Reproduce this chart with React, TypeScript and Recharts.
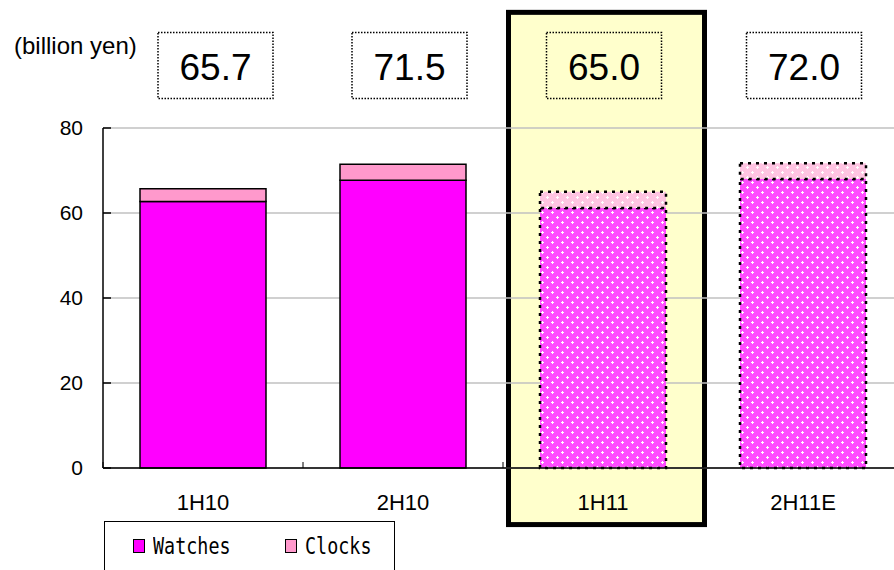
import React from 'react';
import {
  BarChart,
  Bar,
  XAxis,
  YAxis,
  CartesianGrid,
  Cell,
  LabelList,
  Legend,
  ReferenceArea,
} from 'recharts';

// values (billion yen)
const categories = ['1H10', '2H10', '1H11', '2H11E'];
const watches = [62.7, 67.7, 61.2, 68.0];
const clocks = [3.0, 3.8, 3.8, 3.7];
const totals = [65.7, 71.5, 65.0, 72.0];
const forecast = [false, false, true, true];
const seriesNames = ['Watches', 'Clocks'];
const yTicks = [0, 20, 40, 60, 80];
const highlighted = '1H11';

// layout only
const LABEL_SHIFT = [12.5, 6.5, 1, 1];
const HIGHLIGHT_Y: [number, number] = [-13.9, 107.8];
const FONT = 'Arial, "Liberation Sans", sans-serif';
const MONO = '"DejaVu Sans Mono", "Liberation Mono", monospace';

const data = categories.map((name, i) => ({
  name,
  watches: watches[i],
  clocks: clocks[i],
  total: totals[i],
}));

// light fill with small white crosses, like the slide's dotted "estimate" bars
function DotPattern({ id, base }: { id: string; base: string }) {
  return (
    <pattern id={id} width={10} height={10} patternUnits="userSpaceOnUse">
      <rect width={10} height={10} fill={base} />
      <path
        d="M1 2h3v1h-3zM2 1h1v3h-1zM6 7h3v1h-3zM7 6h1v3h-1z"
        fill="#fff"
        shapeRendering="crispEdges"
      />
    </pattern>
  );
}

function Patterns() {
  return (
    <svg width={0} height={0} style={{ position: 'absolute' }}>
      <defs>
        <DotPattern id="watchesP" base="#FF4CFF" />
        <DotPattern id="clocksP" base="#FFC4E2" />
      </defs>
    </svg>
  );
}

const CategoryTick = (props: any) => {
  const { x, y, payload } = props;
  const off = payload.offset ?? 100;
  const axisY = y - 26;
  return (
    <g>
      <line x1={x - off} x2={x - off} y1={axisY} y2={axisY - 6} stroke="#000" />
      <text x={x} y={y} dy="0.71em" textAnchor="middle" fontSize={22} fill="#000" fontFamily={FONT}>
        {payload.value}
      </text>
    </g>
  );
};

const TotalLabel = (props: any) => {
  const { x, width, value, index } = props;
  const cx = Number(x) + Number(width) / 2 + (LABEL_SHIFT[index] ?? 0);
  return (
    <g>
      <rect
        x={cx - 57.5}
        y={32.5}
        width={115}
        height={66}
        fill="none"
        stroke="#000"
        strokeWidth={1.5}
        strokeDasharray="1.5 1.5"
      />
      <text x={cx} y={80} textAnchor="middle" fontSize={37} fill="#000" fontFamily={FONT}>
        {Number(value).toFixed(1)}
      </text>
    </g>
  );
};

const HighlightBox = (props: any) => {
  const { x, y, width, height } = props;
  return (
    <rect
      x={x + 5.5}
      y={y + 2.5}
      width={width - 4}
      height={height - 5}
      fill="#FFFFCC"
      stroke="#000"
      strokeWidth={5}
    />
  );
};

const LegendBox = (props: any) => {
  const items = [...(props.payload ?? [])].sort(
    (a: any, b: any) => seriesNames.indexOf(a.value) - seriesNames.indexOf(b.value)
  );
  const lefts = [28, 180];
  return (
    <div style={{ position: 'relative', width: '100%', height: '100%' }}>
      {items.map((it: any, i: number) => (
        <React.Fragment key={it.value}>
          <div
            style={{
              position: 'absolute',
              left: lefts[i],
              top: 17,
              width: 12,
              height: 14,
              boxSizing: 'border-box',
              border: '1px solid #000',
              background: it.color,
            }}
          />
          <span
            style={{
              position: 'absolute',
              left: lefts[i] + 20,
              top: 13,
              fontFamily: MONO,
              fontSize: 23,
              lineHeight: '23px',
              whiteSpace: 'nowrap',
              color: '#000',
              transform: 'scaleX(0.8)',
              transformOrigin: 'left',
            }}
          >
            {it.value}
          </span>
        </React.Fragment>
      ))}
    </div>
  );
};

export default function App() {
  return (
    <div
      style={{
        position: 'absolute',
        left: 0,
        top: 0,
        width: 894,
        height: 570,
        overflow: 'hidden',
        background: '#fff',
      }}
    >
      <Patterns />
      <div
        style={{
          position: 'absolute',
          left: 14,
          top: 32,
          fontFamily: FONT,
          fontSize: 24,
          lineHeight: '28px',
          color: '#000',
        }}
      >
        (billion yen)
      </div>
      <BarChart
        width={903}
        height={570}
        data={data}
        margin={{ top: 128, right: 0, bottom: 72, left: 0 }}
      >
        <ReferenceArea
          x1={highlighted}
          x2={highlighted}
          y1={HIGHLIGHT_Y[0]}
          y2={HIGHLIGHT_Y[1]}
          ifOverflow="visible"
          shape={HighlightBox}
          zIndex={-200}
        />
        <CartesianGrid vertical={false} stroke="#c0c0c0" strokeWidth={1.5} />
        <XAxis
          dataKey="name"
          height={30}
          tickLine={false}
          tickSize={0}
          tickMargin={26}
          axisLine={{ stroke: '#000', strokeWidth: 1.5 }}
          tick={<CategoryTick />}
        />
        <YAxis
          width={103}
          domain={[0, 80]}
          ticks={yTicks}
          tickSize={-8}
          tickMargin={28}
          axisLine={{ stroke: '#000', strokeWidth: 1.5 }}
          tickLine={{ stroke: '#000', strokeWidth: 1.5 }}
          tick={{ fontSize: 21, fill: '#000', fontFamily: FONT }}
        />
        <Legend
          layout="horizontal"
          verticalAlign="middle"
          align="center"
          content={<LegendBox />}
          wrapperStyle={{
            position: 'absolute',
            left: 104,
            top: 521,
            width: 291,
            height: 60,
            boxSizing: 'border-box',
            border: '1px solid #000',
            background: '#fff',
          }}
        />
        <Bar
          dataKey="watches"
          name="Watches"
          stackId="a"
          fill="#FF00FF"
          stroke="#000"
          strokeWidth={1.5}
          barSize={126}
          isAnimationActive={false}
        >
          {data.map((d, i) => (
            <Cell
              key={d.name}
              fill={forecast[i] ? 'url(#watchesP)' : '#FF00FF'}
              strokeDasharray={forecast[i] ? '3 5' : undefined}
              strokeWidth={forecast[i] ? 2.5 : 1.5}
            />
          ))}
        </Bar>
        <Bar
          dataKey="clocks"
          name="Clocks"
          stackId="a"
          fill="#FF99CC"
          stroke="#000"
          strokeWidth={1.5}
          barSize={126}
          isAnimationActive={false}
        >
          {data.map((d, i) => (
            <Cell
              key={d.name}
              fill={forecast[i] ? 'url(#clocksP)' : '#FF99CC'}
              strokeDasharray={forecast[i] ? '3 5' : undefined}
              strokeWidth={forecast[i] ? 2.5 : 1.5}
            />
          ))}
          <LabelList dataKey="total" content={<TotalLabel />} />
        </Bar>
      </BarChart>
    </div>
  );
}
